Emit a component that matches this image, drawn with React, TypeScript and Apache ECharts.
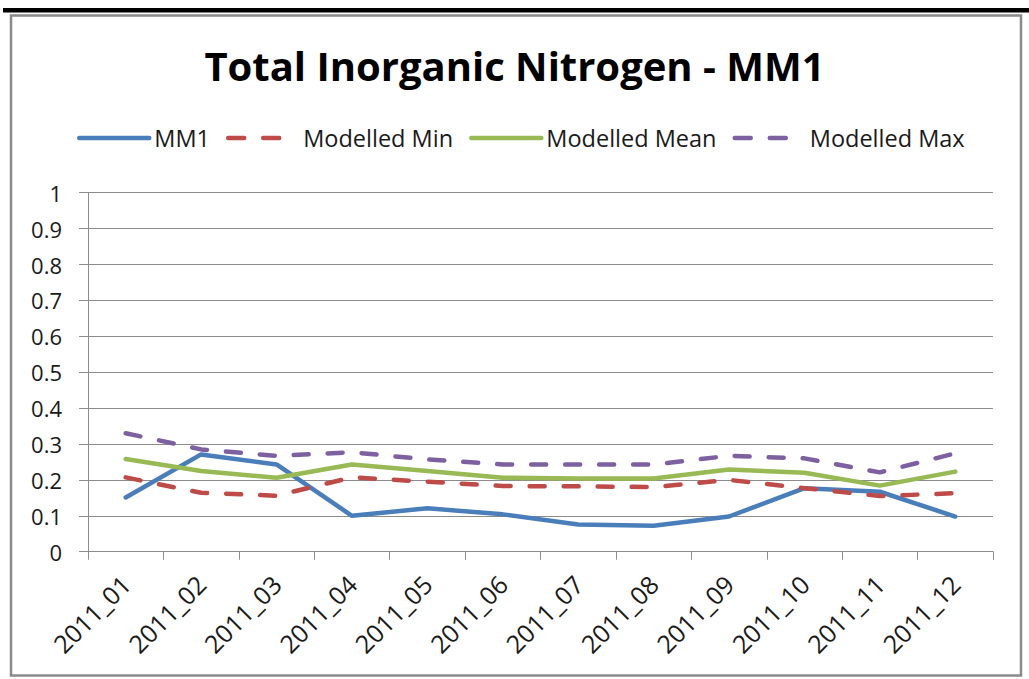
import React, { useEffect, useRef } from "react";
import * as echarts from "echarts";

const categories = ["2011_01","2011_02","2011_03","2011_04","2011_05","2011_06","2011_07","2011_08","2011_09","2011_10","2011_11","2011_12"];
const mm1 = [0.151, 0.271, 0.243, 0.100, 0.121, 0.104, 0.076, 0.072, 0.098, 0.177, 0.167, 0.098];
const modelledMin = [0.207, 0.164, 0.156, 0.207, 0.195, 0.183, 0.182, 0.180, 0.200, 0.177, 0.155, 0.163];
const modelledMean = [0.258, 0.225, 0.206, 0.243, 0.225, 0.206, 0.204, 0.204, 0.229, 0.220, 0.184, 0.223];
const modelledMax = [0.330, 0.285, 0.267, 0.277, 0.257, 0.243, 0.243, 0.243, 0.267, 0.260, 0.221, 0.274];
const yTicks = [0, 0.1, 0.2, 0.3, 0.4, 0.5, 0.6, 0.7, 0.8, 0.9, 1];

const FONT = "'Open Sans', 'Noto Sans', sans-serif";

export default function App() {
  const ref = useRef<HTMLDivElement>(null);
  useEffect(() => {
    if (!ref.current) return;
    const chart = echarts.init(ref.current, null, { renderer: "svg" });
    const dash = [15, 19];
    const legendDash = [16, 19];
    const legendItem = (name: string, color: string, dashed: boolean) => ({
      name,
      itemStyle: { opacity: 0 },
      lineStyle: { color, width: 4.5, type: dashed ? legendDash : "solid", cap: "round" },
    });
    chart.setOption({
      animation: false,
      backgroundColor: "#ffffff",
      title: {
        text: "Total Inorganic Nitrogen - MM1",
        left: "center",
        top: 40,
        textStyle: { fontFamily: FONT, fontWeight: "bold", fontSize: 40, color: "#000" },
      },
      legend: {
        top: 121,
        left: 72,
        itemWidth: 70,
        itemHeight: 14,
        itemGap: 16,
        itemStyle: { opacity: 0 },
        textStyle: { fontFamily: FONT, fontSize: 23.5, color: "#1a1a1a" },
        data: [
          legendItem("MM1", "#4A7EBB", false),
          legendItem("Modelled Min", "#BE4B48", true),
          legendItem("Modelled Mean", "#98B954", false),
          legendItem("Modelled Max", "#7D60A0", true),
        ],
      },
      grid: { left: 88, right: 36, top: 192.7, bottom: 127.3 },
      xAxis: {
        type: "category",
        data: categories,
        boundaryGap: true,
        axisLine: { lineStyle: { color: "#8c8c8c", width: 1 } },
        axisTick: { show: true, length: 8, lineStyle: { color: "#8c8c8c" } },
        axisLabel: { rotate: 45, margin: 28, fontFamily: FONT, fontSize: 25, color: "#1a1a1a", interval: 0 },
      },
      yAxis: {
        type: "value",
        min: 0,
        max: 1,
        interval: 0.1,
        axisLine: { show: true, lineStyle: { color: "#8c8c8c", width: 1 } },
        axisTick: { show: true, length: 9, lineStyle: { color: "#8c8c8c" } },
        splitLine: { show: true, lineStyle: { color: "#8c8c8c", width: 1 } },
        axisLabel: {
          margin: 26,
          fontFamily: FONT,
          fontSize: 22,
          color: "#1a1a1a",
          formatter: (v: number) => {
            const t = yTicks.find((x) => Math.abs(x - v) < 1e-9);
            return t === undefined ? "" : String(t);
          },
        },
      },
      series: [
        {
          name: "MM1", type: "line", data: mm1, symbol: "none", color: "#4A7EBB",
          lineStyle: { width: 4.5, color: "#4A7EBB", cap: "round", join: "round" },
        },
        {
          name: "Modelled Min", type: "line", data: modelledMin, symbol: "none", color: "#BE4B48",
          lineStyle: { width: 4.5, color: "#BE4B48", type: dash, cap: "round", join: "round" },
        },
        {
          name: "Modelled Mean", type: "line", data: modelledMean, symbol: "none", color: "#98B954",
          lineStyle: { width: 4.5, color: "#98B954", cap: "round", join: "round" },
        },
        {
          name: "Modelled Max", type: "line", data: modelledMax, symbol: "none", color: "#7D60A0",
          lineStyle: { width: 4.5, color: "#7D60A0", type: dash, cap: "round", join: "round" },
        },
      ],
      graphic: [
        { type: "rect", shape: { x: 3, y: 8, width: 1026, height: 4.5 }, style: { fill: "#000" }, silent: true },
        { type: "rect", shape: { x: 11, y: 15.5, width: 1010, height: 660 }, style: { fill: "none", stroke: "#8a8a8a", lineWidth: 2.5 }, silent: true },
      ],
    });
    return () => chart.dispose();
  }, []);
  return <div ref={ref} style={{ position: "fixed", left: 0, top: 0, width: 1029, height: 679 }} />;
}
